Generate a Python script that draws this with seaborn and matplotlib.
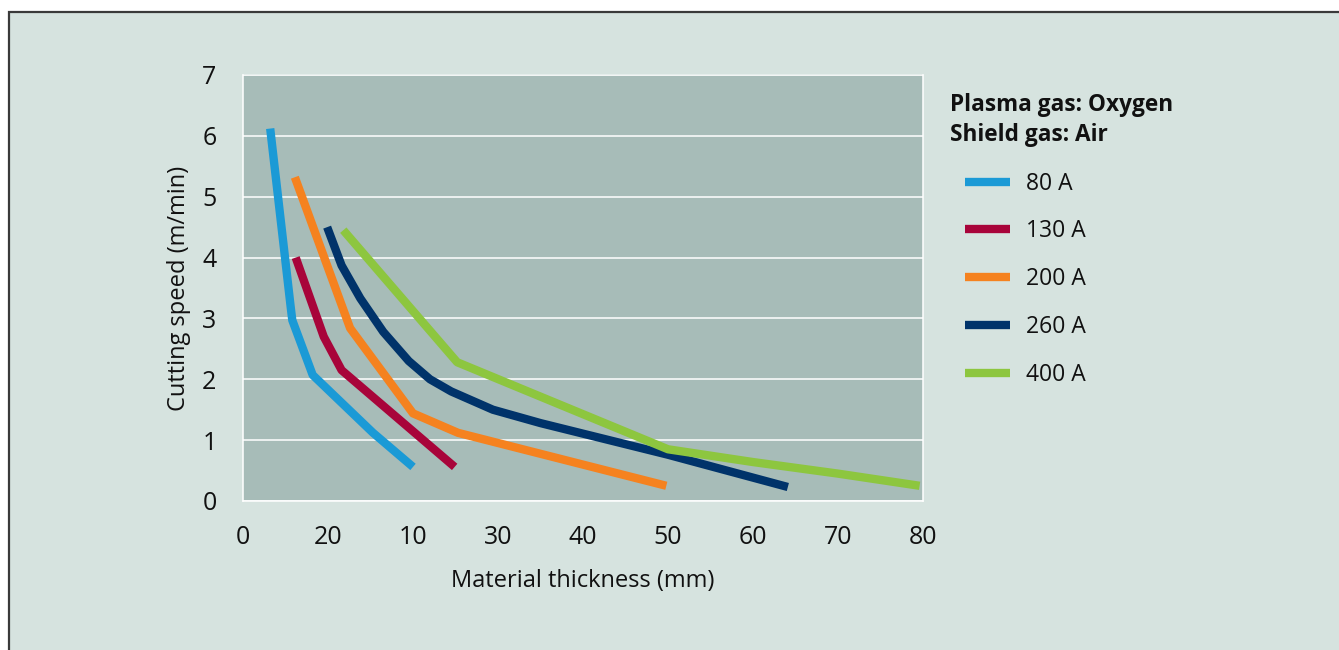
import numpy as np
import pandas as pd
import seaborn as sns
import matplotlib.pyplot as plt
from matplotlib.patches import Rectangle

# ──────────────────────────────
# Data
# ──────────────────────────────
x_80 = [3.2, 5.6, 5.8, 8.2, 15.3, 20.0]
y_80 = [6.12, 3.2, 2.97, 2.07, 1.12, 0.56]

x_130 = [6.2, 9.5, 11.6, 24.9]
y_130 = [4.0, 2.7, 2.15, 0.56]

x_200 = [6.1, 12.6, 20.0, 25.3, 49.8]
y_200 = [5.32, 2.84, 1.44, 1.12, 0.25]

x_260 = [9.9, 11.6, 13.8, 16.5, 19.5, 22.0, 24.5, 29.4, 35.0, 50.0, 64.1]
y_260 = [4.5, 3.87, 3.33, 2.78, 2.3, 2.0, 1.8, 1.5, 1.28, 0.76, 0.23]

x_400 = [11.8, 25.2, 50.0, 60.0, 70.0, 79.6]
y_400 = [4.45, 2.28, 0.85, 0.64, 0.45, 0.25]

series_names = ["80 A", "130 A", "200 A", "260 A", "400 A"]
series_colors = ["#1b9ad6", "#a8043a", "#f5821f", "#00336a", "#8dc63f"]

x_ticks = [0, 10, 20, 30, 40, 50, 60, 70, 80]
x_tick_labels = ["0", "20", "10", "30", "40", "50", "60", "70", "80"]
y_ticks = [0, 1, 2, 3, 4, 5, 6, 7]

legend_title = "Plasma gas: Oxygen\nShield gas: Air"
x_label = "Material thickness (mm)"
y_label = "Cutting speed (m/min)"

# long-format table for seaborn
frames = []
for name, xs, ys in zip(series_names,
                        [x_80, x_130, x_200, x_260, x_400],
                        [y_80, y_130, y_200, y_260, y_400]):
    frames.append(pd.DataFrame({"thickness": xs, "speed": ys, "current": name}))
df = pd.concat(frames, ignore_index=True)

# ──────────────────────────────
# Style
# ──────────────────────────────
sns.set_style("white")
plt.rcParams["font.family"] = ["Open Sans", "DejaVu Sans"]

PANEL = "#d6e3df"
PLOT_BG = "#a7bcb8"
INK = "#111111"

fig = plt.figure(figsize=(13.39, 6.5), dpi=100)
fig.patch.set_facecolor("white")

# framed light panel behind the chart
fig.patches.append(Rectangle((9 / 1339, -0.1), 1.2, (650 - 12) / 650 + 0.1,
                             transform=fig.transFigure, facecolor=PANEL,
                             edgecolor="#3a3a3a", linewidth=1.6, zorder=-10))

ax = fig.add_axes([243 / 1339, (650 - 501) / 650, 680 / 1339, 426 / 650])
ax.set_facecolor(PLOT_BG)

sns.lineplot(data=df, x="thickness", y="speed", hue="current",
             hue_order=series_names, palette=series_colors,
             estimator=None, linewidth=6, ax=ax, legend=False)
for line in ax.lines:
    line.set_solid_capstyle("butt")
    line.set_solid_joinstyle("round")

ax.set_xlim(0, 80)
ax.set_ylim(0, 7)
ax.set_xticks(x_ticks)
ax.set_xticklabels(x_tick_labels)
ax.set_yticks(y_ticks)

ax.grid(axis="y", color="white", linewidth=1.1)
ax.set_axisbelow(True)
for side in ["left", "bottom", "right", "top"]:
    ax.spines[side].set_color("white")
    ax.spines[side].set_linewidth(1.1)
ax.spines["top"].set_alpha(0.5)

ax.tick_params(axis="x", direction="inout", length=14, width=1.2, color="white",
               labelsize=18, pad=10, labelcolor=INK)
ax.tick_params(axis="y", direction="out", length=5, width=1.1, color="white",
               labelsize=18, pad=14, labelcolor=INK)

ax.set_xlabel(x_label, fontsize=17, color=INK, labelpad=14)
ax.set_ylabel(y_label, fontsize=17, color=INK, labelpad=8)

# legend block on the right
fig.text(950 / 1339, 1 - 93 / 650, legend_title, fontsize=16.3, fontweight="bold",
         color=INK, va="top", ha="left", linespacing=1.35)
handles = [plt.Line2D([], [], color=c, linewidth=6, solid_capstyle="butt")
           for c in series_colors]
leg = fig.legend(handles, series_names, loc="upper left",
                 bbox_to_anchor=(944 / 1339, 1 - 151 / 650),
                 frameon=False, fontsize=16.5, handlelength=2.0,
                 handletextpad=0.7, labelspacing=1.04)
for t in leg.get_texts():
    t.set_color(INK)

fig.savefig("out.png", dpi=100, facecolor=fig.get_facecolor())
